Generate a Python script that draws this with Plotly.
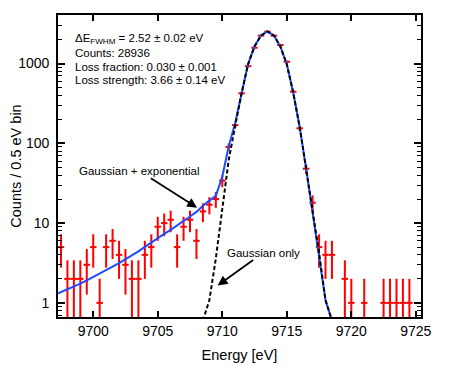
import numpy as np
import plotly.graph_objects as go

# measured spectrum, 0.5 eV bins
energia = [9697.5, 9698.0, 9698.5, 9699.0, 9699.5, 9700.0, 9700.5, 9701.0, 9701.5, 9702.0,
           9702.5, 9703.0, 9703.5, 9704.0, 9704.5, 9705.0, 9705.5, 9706.0, 9706.5, 9707.0,
           9707.5, 9708.0, 9708.5, 9709.0, 9709.5, 9710.0, 9710.5, 9711.0, 9711.5, 9712.0,
           9712.5, 9713.0, 9713.5, 9714.0, 9714.5, 9715.0, 9715.5, 9716.0, 9716.5, 9717.0,
           9717.5, 9718.0, 9718.5, 9719.0, 9719.5, 9720.0, 9720.5, 9721.0, 9721.5, 9722.0,
           9722.5, 9723.0, 9723.5, 9724.0, 9724.5]
cuentas = [5, 2, 2, 2, 3, 5, 1, 5, 6, 4,
           3, 2, 2, 4, 5, 9, 10, 11, 5, 9,
           11, 6, 14, 17, 20, 34, 90, 169, 423, 927,
           1578, 2233, 2506, 2233, 1706, 1052, 443, 154, 48, 18,
           5, 4, 4, 0, 2, 1, 0, 1, 0, 0,
           1, 1, 1, 1, 1]

# fit: gaussian + exponential tail
energia_ajuste = [9697.0, 9697.5, 9698.0, 9698.5, 9699.0, 9699.5, 9700.0, 9700.5, 9701.0, 9701.5,
                  9702.0, 9702.5, 9703.0, 9703.5, 9704.0, 9704.5, 9705.0, 9705.5, 9706.0, 9706.5,
                  9707.0, 9707.5, 9708.0, 9708.5, 9709.0, 9709.5, 9710.0, 9710.5, 9711.0, 9711.5,
                  9712.0, 9712.5, 9713.0, 9713.5, 9714.0, 9714.5, 9715.0, 9715.5, 9716.0, 9716.5,
                  9717.0, 9717.5, 9718.0, 9718.5]
ajuste_total = [1.26, 1.36, 1.48, 1.59, 1.74, 1.91, 2.10, 2.31, 2.57, 2.85,
                3.16, 3.52, 3.93, 4.42, 5.04, 5.74, 6.50, 7.31, 8.22, 9.29,
                10.6, 12.1, 13.8, 16.5, 19.1, 21.9, 38, 92, 180, 440,
                985, 1645, 2245, 2530, 2240, 1640, 980, 430, 160, 48,
                14, 4.2, 1.08, 0.6]

# gaussian only
energia_gauss = [9708.5, 9709.0, 9709.5, 9710.0, 9710.5, 9711.0, 9711.5, 9712.0, 9712.5, 9713.0,
                 9713.5, 9714.0, 9714.5, 9715.0, 9715.5, 9716.0, 9716.5, 9717.0, 9717.5, 9718.0,
                 9718.5]
ajuste_gauss = [0.6, 1.08, 3.6, 14, 62, 165, 430, 980, 1640, 2240,
                2530, 2240, 1640, 980, 430, 160, 48, 14, 4.2, 1.08,
                0.6]

ticks_y = [1, 10, 100, 1000]
ticks_y_texto = ['1', '10', '100', '1000']
ticks_menores = [0.7, 0.8, 0.9, 2, 3, 4, 5, 6, 7, 8, 9, 20, 30, 40, 50, 60, 70, 80, 90,
                 200, 300, 400, 500, 600, 700, 800, 900, 2000, 3000, 4000]
ticks_x = [9700, 9705, 9710, 9715, 9720, 9725]

# quitar bins vacios (escala log)
e = np.array(energia)
c = np.array(cuentas, dtype=float)
m = c > 0
e, c = e[m], c[m]
err = np.sqrt(c)
err_minus = np.minimum(err, c - 0.001)

fuente = 'Arial, Liberation Sans, sans-serif'

fig = go.Figure()
fig.add_trace(go.Scatter(
    x=e, y=c, mode='markers',
    marker=dict(size=1, color='rgba(255,0,0,0)'),
    error_y=dict(type='data', array=err, arrayminus=err_minus, color='#ff0000', thickness=2, width=0),
    error_x=dict(type='constant', value=0.25, color='#ff0000', thickness=2, width=0),
    showlegend=False))
fig.add_trace(go.Scatter(x=energia_ajuste, y=ajuste_total, mode='lines',
                         line=dict(color='#1a4dff', width=2), showlegend=False))
fig.add_trace(go.Scatter(x=energia_gauss, y=ajuste_gauss, mode='lines',
                         line=dict(color='black', width=2, dash='4px,2.5px'), showlegend=False))

texto = ['ΔE<sub>FWHM</sub> = 2.52 ± 0.02 eV', 'Counts: 28936',
         'Loss fraction: 0.030 ± 0.001', 'Loss strength: 3.66 ± 0.14 eV']
for t, yy in zip(texto, [3.307, 3.128, 2.960, 2.793]):
    fig.add_annotation(x=9698.43, y=yy, text=t, showarrow=False, xanchor='left', yanchor='middle',
                       font=dict(size=11.5, color='black', family=fuente))

# etiquetas con flecha
fig.add_annotation(x=9708.05, y=1.193, text='Gaussian + exponential', showarrow=True,
                   ax=-58, ay=-37, arrowhead=2, arrowsize=1.1, arrowwidth=1.8, arrowcolor='black',
                   font=dict(size=11.5, color='black', family=fuente))
fig.add_annotation(x=9709.64, y=0.217, text='Gaussian only', showarrow=True,
                   ax=46, ay=-33, arrowhead=2, arrowsize=1.1, arrowwidth=1.8, arrowcolor='black',
                   font=dict(size=11.5, color='black', family=fuente))

# la pagina tiene 8px de margen en body
fig.update_layout(
    width=449, height=360,
    margin=dict(l=50, r=36, t=7, b=51),
    paper_bgcolor='white', plot_bgcolor='white',
    font=dict(family=fuente, size=14, color='black'),
    xaxis=dict(title=dict(text='Energy [eV]', font=dict(size=14.5), standoff=12),
               range=[9697.27, 9725.4], tickvals=ticks_x, automargin=False,
               ticks='inside', ticklen=6, tickwidth=1.8, tickcolor='black',
               showline=True, linewidth=1.8, linecolor='black', mirror='allticks',
               showgrid=False, zeroline=False),
    yaxis=dict(title=dict(text='Counts / 0.5 eV bin', font=dict(size=14.5), standoff=6),
               type='log', range=[-0.177, 3.608], automargin=False,
               tickvals=ticks_y, ticktext=ticks_y_texto, ticklabelstandoff=4,
               ticks='inside', ticklen=7, tickwidth=1.8, tickcolor='black',
               minor=dict(tickmode='array', tickvals=ticks_menores, ticks='inside',
                          ticklen=4, tickwidth=1.2, tickcolor='black', showgrid=False),
               showline=True, linewidth=1.8, linecolor='black', mirror='allticks',
               showgrid=False, zeroline=False),
)

fig.write_html('out.html')
